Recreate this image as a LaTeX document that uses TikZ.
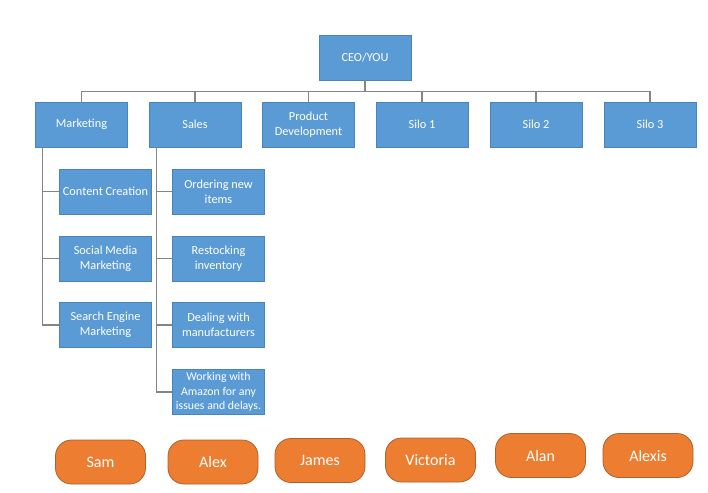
\documentclass[tikz,border=0pt]{standalone}
\usepackage{fontspec}
\setmainfont{Carlito}
\definecolor{boxblue}{HTML}{5B9BD5}
\definecolor{boxedge}{HTML}{4A84BC}
\definecolor{ovfill}{HTML}{ED7D31}
\definecolor{ovedge}{HTML}{B0602A}
\definecolor{linkgray}{HTML}{858585}
\begin{document}
\begin{tikzpicture}[x=1pt,y=-1pt,
  bluebox/.style={rectangle, fill=boxblue, draw=boxedge, line width=0.6pt,
    minimum width=92pt, minimum height=45pt, inner sep=1pt, align=center,
    text=white, font=\fontsize{12.3}{15}\selectfont},
  person/.style={rectangle, rounded corners=16pt, fill=ovfill, draw=ovedge, line width=0.8pt,
    minimum width=90pt, minimum height=44pt, inner sep=1pt,
    text=white, font=\fontsize{16}{18}\selectfont},
  link/.style={draw=linkgray, line width=1.3pt}]
\useasboundingbox (0,0) rectangle (708,492);

\node[bluebox] (ceo) at (365,57.5) {CEO/YOU};
\node[bluebox] (mkt) at (81.5,124.5) {Marketing};
\node[bluebox] (sales) at (195,124.5) {Sales};
\node[bluebox] (pd) at (308.5,124.5) {Product\\Development};
\node[bluebox] (s1) at (422,124.5) {Silo 1};
\node[bluebox] (s2) at (536,124.5) {Silo 2};
\node[bluebox] (s3) at (650,124.5) {Silo 3};

\node[bluebox] (cc) at (105.5,191.5) {Content Creation};
\node[bluebox] (smm) at (105.5,258.5) {Social Media\\Marketing};
\node[bluebox] (sem) at (105.5,325) {Search Engine\\Marketing};

\node[bluebox] (on) at (218.5,191.5) {Ordering new\\items};
\node[bluebox] (ri) at (218.5,258.5) {Restocking\\inventory};
\node[bluebox] (dm) at (218.5,325) {Dealing with\\manufacturers};
\node[bluebox, font=\fontsize{11.8}{14.3}\selectfont] (wa) at (218.5,392) {Working with\\Amazon for any\\issues and delays.};

\foreach \n in {mkt,sales,pd,s1,s2,s3}
  \draw[link] (ceo.south) -- ++(0,11) -| (\n.north);

\foreach \n in {cc,smm,sem}
  \draw[link] ([xshift=7.5pt]mkt.south west) |- (\n.west);
\foreach \n in {on,ri,dm,wa}
  \draw[link] ([xshift=8pt]sales.south west) |- (\n.west);

\node[person] (sam) at (100.5,462) {Sam};
\node[person] (alex) at (213,462) {Alex};
\node[person] (james) at (320,460.5) {James};
\node[person] (victoria) at (430.5,460) {Victoria};
\node[person] (alan) at (540.5,455.5) {Alan};
\node[person] (alexis) at (648,455.5) {Alexis};
\end{tikzpicture}
\end{document}
